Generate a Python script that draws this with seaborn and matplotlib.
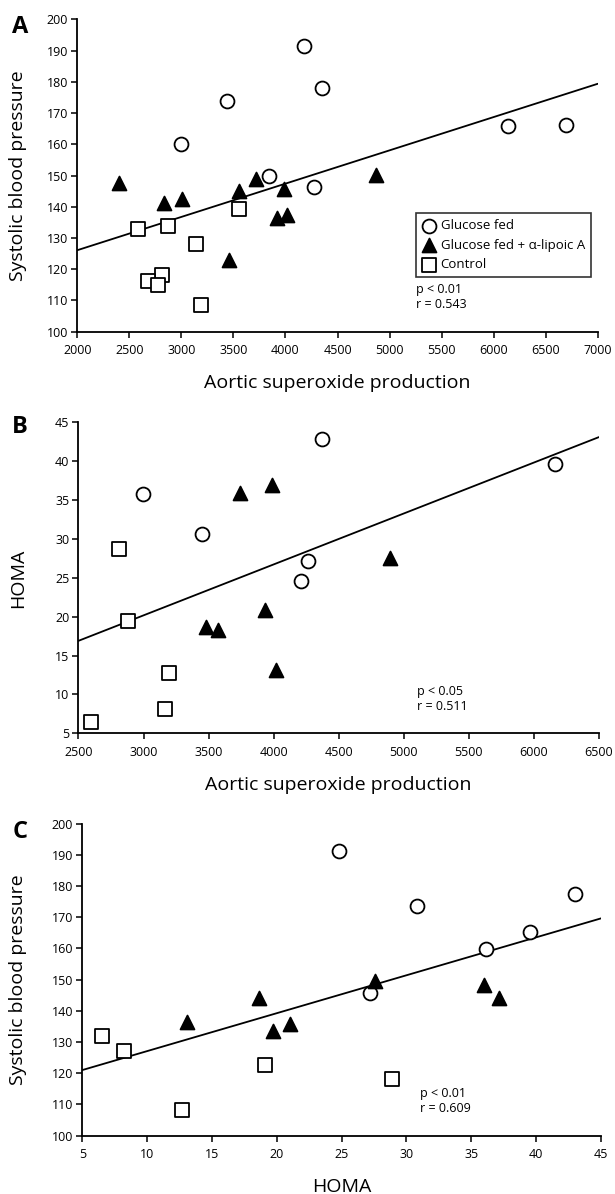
import matplotlib
matplotlib.use("Agg")
import matplotlib.pyplot as plt
import seaborn as sns

# Panel A: aortic superoxide production vs systolic blood pressure
a_glu_x = [2995, 3435, 4175, 4350, 3840, 4270, 6140, 6695]
a_glu_y = [160, 174, 191.5, 178, 150, 146.5, 166, 166.2]
a_lip_x = [2405, 2830, 3010, 3550, 3720, 3985, 3920, 4010, 3455, 4870]
a_lip_y = [147.5, 141.3, 142.5, 145, 149, 145.6, 136.3, 137.3, 123.1, 150.2]
a_con_x = [2585, 2870, 3550, 3140, 2815, 2675, 2775, 3185]
a_con_y = [133, 134, 139.4, 128, 118.3, 116.1, 114.8, 108.6]
a_fit_x = [2000, 7000]
a_fit_y = [126.1, 179.4]

# Panel B: aortic superoxide production vs HOMA
b_glu_x = [2995, 3450, 4370, 4265, 4210, 6165]
b_glu_y = [35.8, 30.6, 42.8, 27.2, 24.6, 39.6]
b_lip_x = [3740, 3990, 4895, 3930, 3480, 3570, 4015]
b_lip_y = [35.9, 36.9, 27.5, 20.9, 18.7, 18.3, 13.1]
b_con_x = [2815, 2880, 3195, 3165, 2595]
b_con_y = [28.7, 19.4, 12.7, 8.1, 6.4]
b_fit_x = [2500, 6500]
b_fit_y = [16.9, 43.1]

# Panel C: HOMA vs systolic blood pressure
c_glu_x = [24.8, 30.8, 43.0, 39.5, 36.1, 27.2]
c_glu_y = [191.2, 173.6, 177.4, 165.1, 159.8, 145.6]
c_lip_x = [13.1, 18.6, 19.7, 21.0, 27.6, 36.0, 37.1]
c_lip_y = [136.3, 144.0, 133.6, 135.8, 149.6, 148.3, 144.1]
c_con_x = [6.5, 8.2, 19.1, 28.9, 12.7]
c_con_y = [132.0, 127.0, 122.7, 118.1, 108.2]
c_fit_x = [5, 45]
c_fit_y = [121.0, 169.6]

group_names = ["Glucose fed", "Glucose fed + \u03b1-lipoic A", "Control"]

sns.set_style("ticks")
plt.rcParams['font.family'] = ['Open Sans', 'DejaVu Sans']
plt.rcParams['text.color'] = 'black'
plt.rcParams['axes.labelcolor'] = 'black'
plt.rcParams['axes.linewidth'] = 1.3
plt.rcParams['xtick.major.width'] = 1.1
plt.rcParams['ytick.major.width'] = 1.1
plt.rcParams['xtick.major.size'] = 4
plt.rcParams['ytick.major.size'] = 4
plt.rcParams['xtick.color'] = 'black'
plt.rcParams['ytick.color'] = 'black'


def draw_panel(ax, glu, lip, con, fit, xlim, ylim, xticks, yticks,
               xlabel, ylabel, ylabel_x, stats):
    sns.lineplot(x=fit[0], y=fit[1], color='black', linewidth=1.3, ax=ax)
    style = dict(s=100, edgecolor='black', linewidth=1.3, zorder=3)
    sns.scatterplot(x=glu[0], y=glu[1], marker='o', facecolor='white',
                    label=group_names[0], ax=ax, **style)
    sns.scatterplot(x=lip[0], y=lip[1], marker='^', facecolor='black',
                    label=group_names[1], ax=ax, **style)
    sns.scatterplot(x=con[0], y=con[1], marker='s', facecolor='white',
                    label=group_names[2], ax=ax, **style)
    ax.set_xlim(*xlim)
    ax.set_ylim(*ylim)
    ax.set_xticks(xticks)
    ax.set_yticks(yticks)
    ax.tick_params(axis='both', labelsize=9)
    ax.tick_params(axis='x', pad=5)
    ax.tick_params(axis='y', pad=2.5)
    ax.set_xlabel(xlabel, fontsize=14, labelpad=12)
    ax.set_ylabel(ylabel, fontsize=14)
    ax.yaxis.set_label_coords(ylabel_x, 0.5)
    for sp in ['top', 'right']:
        ax.spines[sp].set_visible(False)
    for sp in ['left', 'bottom']:
        ax.spines[sp].set_color('black')
    ax.text(0.651, 0.134, stats[0], transform=ax.transAxes, fontsize=9,
            va='center', ha='left')
    ax.text(0.651, 0.086, stats[1], transform=ax.transAxes, fontsize=9,
            va='center', ha='left')


fig = plt.figure(figsize=(6.15, 11.94), dpi=100)
ax_a = fig.add_axes([0.1257, 0.7222, 0.8462, 0.2615])
ax_b = fig.add_axes([0.1276, 0.3858, 0.8463, 0.2605])
ax_c = fig.add_axes([0.1338, 0.0489, 0.8434, 0.2614])

draw_panel(ax_a, (a_glu_x, a_glu_y), (a_lip_x, a_lip_y), (a_con_x, a_con_y),
           (a_fit_x, a_fit_y), (2000, 7000), (100, 200),
           range(2000, 7001, 500), range(100, 201, 10),
           'Aortic superoxide production', 'Systolic blood pressure', -0.097,
           ('p < 0.01', 'r = 0.543'))
draw_panel(ax_b, (b_glu_x, b_glu_y), (b_lip_x, b_lip_y), (b_con_x, b_con_y),
           (b_fit_x, b_fit_y), (2500, 6500), (5, 45),
           range(2500, 6501, 500), range(5, 46, 5),
           'Aortic superoxide production', 'HOMA', -0.099,
           ('p < 0.05', 'r = 0.511'))
draw_panel(ax_c, (c_glu_x, c_glu_y), (c_lip_x, c_lip_y), (c_con_x, c_con_y),
           (c_fit_x, c_fit_y), (5, 45), (100, 200),
           range(5, 46, 5), range(100, 201, 10),
           'HOMA', 'Systolic blood pressure', -0.107,
           ('p < 0.01', 'r = 0.609'))

# panel letters
for letter, ypix in [('A', 27), ('B', 427), ('C', 832)]:
    fig.text(20 / 615, 1 - ypix / 1194, letter, fontsize=17,
             fontweight='bold', ha='center', va='center')

# legend only in panel A
leg = ax_a.legend(loc='upper left', bbox_to_anchor=(0.65, 0.38),
                  frameon=True, fancybox=False, fontsize=9.5,
                  handletextpad=0.35, borderpad=0.45, labelspacing=0.5,
                  handlelength=1.1, borderaxespad=0)
leg.get_frame().set_edgecolor('black')
leg.get_frame().set_linewidth(1.2)
for ax in (ax_b, ax_c):
    ax.get_legend().remove()

fig.savefig('out.png', dpi=100)
